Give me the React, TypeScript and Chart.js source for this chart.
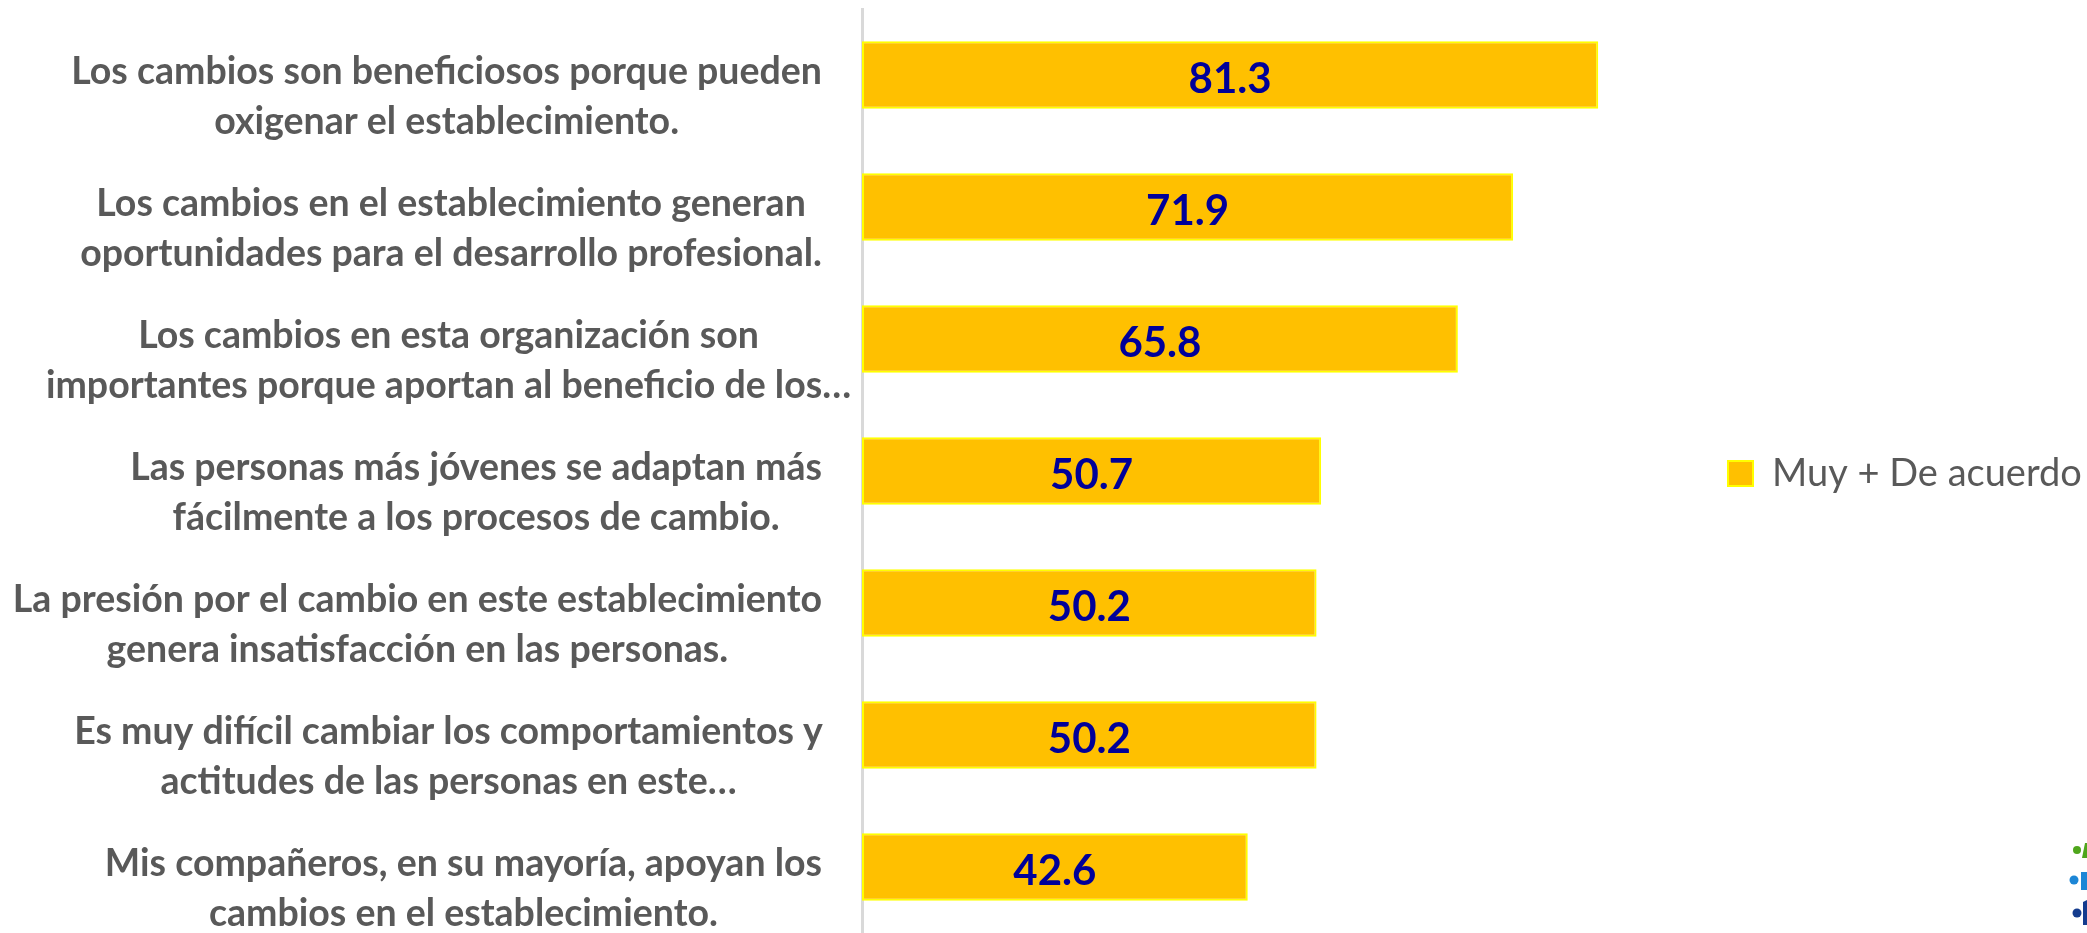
import React, { useEffect, useRef } from "react";
import { Chart, registerables } from "chart.js";

Chart.register(...registerables);

const CATEGORIES: string[][] = [
  ["Los cambios son beneficiosos porque pueden", "oxigenar el establecimiento."],
  ["Los cambios en el establecimiento generan", "oportunidades para el desarrollo profesional."],
  ["Los cambios en esta organización son", "importantes porque aportan al beneficio de los…"],
  ["Las personas más jóvenes se adaptan más", "fácilmente a los procesos de cambio."],
  ["La presión por el cambio en este establecimiento", "genera insatisfacción en las personas."],
  ["Es muy difícil cambiar los comportamientos y", "actitudes de las personas en este…"],
  ["Mis compañeros, en su mayoría, apoyan los", "cambios en el establecimiento."],
];

const VALUES: number[] = [81.3, 71.9, 65.8, 50.7, 50.2, 50.2, 42.6];

const SERIES_LABEL = "Muy + De acuerdo";
const X_MIN = 0;
const X_MAX = 90;

export default function App() {
  const ref = useRef<HTMLCanvasElement>(null);

  useEffect(() => {
    const canvas = ref.current;
    if (!canvas) return;

    const labelPlugin = {
      id: "customLabels",
      afterDatasetsDraw(chart: any) {
        const ctx = chart.ctx as CanvasRenderingContext2D;
        const yScale = chart.scales.y;
        const meta = chart.getDatasetMeta(0);
        ctx.save();
        // value labels
        ctx.font = "bold 42px Lato";
        ctx.fillStyle = "#000099";
        ctx.textAlign = "center";
        ctx.textBaseline = "middle";
        meta.data.forEach((bar: any, i: number) => {
          const p = bar.getProps(["x", "base", "y"], true);
          ctx.fillText(VALUES[i].toFixed(1), (p.x + p.base) / 2, p.y + 4);
        });
        // category labels (each block right-aligned, lines centred in block)
        ctx.font = "bold 37.5px Lato";
        ctx.fillStyle = "#595959";
        ctx.textBaseline = "alphabetic";
        const right = yScale.right - 40;
        const maxBox = 747;
        CATEGORIES.forEach((lines, i) => {
          const cy = yScale.getPixelForTick(i);
          const w = Math.max(...lines.map((l) => ctx.measureText(l).width));
          const truncated = lines[lines.length - 1].endsWith("…");
          const cx = truncated ? right - maxBox / 2 : right - w / 2;
          lines.forEach((l, j) => ctx.fillText(l, cx, cy + 9 + j * 50));
        });
        ctx.restore();
      },
      afterDraw(chart: any) {
        const ctx = chart.ctx as CanvasRenderingContext2D;
        ctx.save();
        // small logo fragment at bottom-right corner
        ctx.fillStyle = "#4FA61C";
        ctx.beginPath();
        ctx.arc(2077, 850, 4, 0, Math.PI * 2);
        ctx.fill();
        ctx.beginPath();
        ctx.moveTo(2085, 843);
        ctx.lineTo(2087, 843);
        ctx.lineTo(2087, 858);
        ctx.lineTo(2082, 858);
        ctx.closePath();
        ctx.fill();
        ctx.fillStyle = "#1C86D6";
        ctx.beginPath();
        ctx.arc(2074, 880, 4.5, 0, Math.PI * 2);
        ctx.fill();
        ctx.fillRect(2081, 872, 6, 18);
        ctx.fillStyle = "#143C8E";
        ctx.beginPath();
        ctx.arc(2077, 913, 4.5, 0, Math.PI * 2);
        ctx.fill();
        ctx.beginPath();
        ctx.moveTo(2083, 902);
        ctx.lineTo(2087, 900);
        ctx.lineTo(2087, 925);
        ctx.lineTo(2083, 925);
        ctx.closePath();
        ctx.fill();
        ctx.restore();
      },
    };

    const chart = new Chart(canvas, {
      type: "bar",
      data: {
        labels: CATEGORIES,
        datasets: [
          {
            label: SERIES_LABEL,
            data: VALUES,
            backgroundColor: "#FFC000",
            borderColor: "#FFFF00",
            borderWidth: 2,
            borderSkipped: false,
            barPercentage: 0.51,
            categoryPercentage: 1,
          },
        ],
      },
      options: {
        indexAxis: "y",
        responsive: false,
        animation: false,
        layout: { padding: { top: 9, bottom: -5, left: 0, right: 0 } },
        scales: {
          x: { display: false, min: X_MIN, max: X_MAX },
          y: {
            ticks: { display: false },
            grid: { display: false },
            border: { display: true, color: "#D9D9D9", width: 3 },
            afterFit: (s: any) => {
              s.width = 862;
            },
          },
        },
        plugins: {
          legend: {
            position: "right",
            maxWidth: 410,
            labels: {
              boxWidth: 25,
              boxHeight: 25,
              padding: 51,
              color: "#595959",
              font: { family: "Lato", size: 38 },
            },
          },
          tooltip: { enabled: false },
        },
      },
      plugins: [labelPlugin],
    } as any);

    let alive = true;
    if ((document as any).fonts) {
      Promise.all([
        (document as any).fonts.load("bold 37.5px Lato"),
        (document as any).fonts.load("38px Lato"),
      ])
        .then(() => {
          if (alive) chart.update();
        })
        .catch(() => {});
    }

    return () => {
      alive = false;
      chart.destroy();
    };
  }, []);

  return (
    <canvas
      ref={ref}
      width={2087}
      height={933}
      style={{ position: "absolute", left: 0, top: 0, width: 2087, height: 933 }}
    />
  );
}
